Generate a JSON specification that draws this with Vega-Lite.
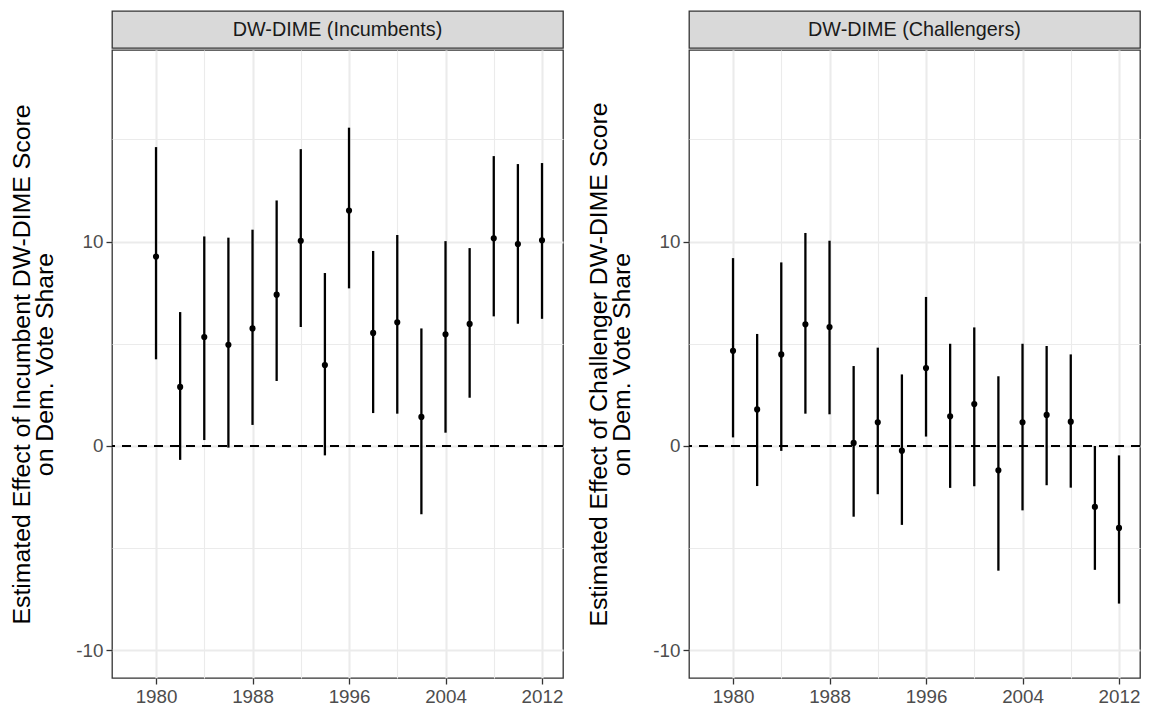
{
  "$schema": "https://vega.github.io/schema/vega-lite/v6.json",
  "background": "white",
  "padding": {"left": 9, "top": 10, "right": 6, "bottom": 0},
  "config": {
    "font": "Liberation Sans",
    "view": {"stroke": "#333333", "strokeWidth": 1.3},
    "axis": {
      "domain": false,
      "tickColor": "#333333",
      "tickWidth": 1.3,
      "tickSize": 6,
      "labelColor": "#4d4d4d",
      "labelFont": "Liberation Sans",
      "labelFontSize": 18.8,
      "labelPadding": 3,
      "gridColor": "#ebebeb",
      "titleFont": "Liberation Sans",
      "titleFontSize": 24.8,
      "titleFontWeight": "normal",
      "titleColor": "#000000"
    }
  },
  "datasets": {
    "d": [
      {"panel": "Incumbents", "year": 1980, "est": 9.27, "lo": 4.24, "hi": 14.62},
      {"panel": "Incumbents", "year": 1982, "est": 2.89, "lo": -0.68, "hi": 6.55},
      {"panel": "Incumbents", "year": 1984, "est": 5.33, "lo": 0.29, "hi": 10.25},
      {"panel": "Incumbents", "year": 1986, "est": 4.95, "lo": -0.08, "hi": 10.19},
      {"panel": "Incumbents", "year": 1988, "est": 5.75, "lo": 1.03, "hi": 10.58},
      {"panel": "Incumbents", "year": 1990, "est": 7.40, "lo": 3.18, "hi": 12.01},
      {"panel": "Incumbents", "year": 1992, "est": 10.04, "lo": 5.82, "hi": 14.52},
      {"panel": "Incumbents", "year": 1994, "est": 3.96, "lo": -0.46, "hi": 8.46},
      {"panel": "Incumbents", "year": 1996, "est": 11.52, "lo": 7.71, "hi": 15.57},
      {"panel": "Incumbents", "year": 1998, "est": 5.53, "lo": 1.61, "hi": 9.54},
      {"panel": "Incumbents", "year": 2000, "est": 6.05, "lo": 1.58, "hi": 10.32},
      {"panel": "Incumbents", "year": 2002, "est": 1.42, "lo": -3.34, "hi": 5.75},
      {"panel": "Incumbents", "year": 2004, "est": 5.46, "lo": 0.65, "hi": 10.02},
      {"panel": "Incumbents", "year": 2006, "est": 5.97, "lo": 2.36, "hi": 9.68},
      {"panel": "Incumbents", "year": 2008, "est": 10.16, "lo": 6.34, "hi": 14.18},
      {"panel": "Incumbents", "year": 2010, "est": 9.88, "lo": 5.98, "hi": 13.79},
      {"panel": "Incumbents", "year": 2012, "est": 10.06, "lo": 6.22, "hi": 13.84},
      {"panel": "Challengers", "year": 1980, "est": 4.66, "lo": 0.42, "hi": 9.19},
      {"panel": "Challengers", "year": 1982, "est": 1.79, "lo": -1.96, "hi": 5.48},
      {"panel": "Challengers", "year": 1984, "est": 4.48, "lo": -0.24, "hi": 8.98},
      {"panel": "Challengers", "year": 1986, "est": 5.95, "lo": 1.58, "hi": 10.42},
      {"panel": "Challengers", "year": 1988, "est": 5.82, "lo": 1.55, "hi": 10.04},
      {"panel": "Challengers", "year": 1990, "est": 0.15, "lo": -3.46, "hi": 3.91},
      {"panel": "Challengers", "year": 1992, "est": 1.16, "lo": -2.36, "hi": 4.81},
      {"panel": "Challengers", "year": 1994, "est": -0.23, "lo": -3.86, "hi": 3.50},
      {"panel": "Challengers", "year": 1996, "est": 3.81, "lo": 0.46, "hi": 7.29},
      {"panel": "Challengers", "year": 1998, "est": 1.45, "lo": -2.05, "hi": 5.00},
      {"panel": "Challengers", "year": 2000, "est": 2.05, "lo": -1.97, "hi": 5.80},
      {"panel": "Challengers", "year": 2002, "est": -1.19, "lo": -6.10, "hi": 3.41},
      {"panel": "Challengers", "year": 2004, "est": 1.16, "lo": -3.15, "hi": 5.00},
      {"panel": "Challengers", "year": 2006, "est": 1.52, "lo": -1.92, "hi": 4.89},
      {"panel": "Challengers", "year": 2008, "est": 1.19, "lo": -2.04, "hi": 4.48},
      {"panel": "Challengers", "year": 2010, "est": -2.98, "lo": -6.06, "hi": 0.0},
      {"panel": "Challengers", "year": 2012, "est": -4.01, "lo": -7.71, "hi": -0.46}
    ]
  },
  "spacing": 21,
  "hconcat": [
    {
      "spacing": 0,
      "vconcat": [
        {
          "width": 451, "height": 37,
          "view": {"fill": "#d9d9d9", "stroke": "#333333", "strokeWidth": 1.3},
          "data": {"values": [{"label": "DW-DIME (Incumbents)"}]},
          "mark": {"type": "text", "fontSize": 19.8, "color": "#1a1a1a", "font": "Liberation Sans", "baseline": "middle"},
          "encoding": {"text": {"field": "label", "type": "nominal"}}
        },
        {
          "width": 451, "height": 628,
          "layer": [
            {
              "data": {"values": [{"zero": 0}]},
              "mark": {"type": "rule", "strokeDash": [9, 7], "strokeWidth": 2, "color": "#000000"},
              "encoding": {"y": {"field": "zero", "type": "quantitative"}}
            },
            {
              "data": {"name": "d"},
              "transform": [{"filter": "datum.panel == 'Incumbents'"}],
              "mark": {"type": "rule", "strokeWidth": 2.3, "color": "#000000"},
              "encoding": {
                "x": {"field": "year", "type": "quantitative"},
                "y": {"field": "lo", "type": "quantitative"},
                "y2": {"field": "hi"}
              }
            },
            {
              "data": {"name": "d"},
              "transform": [{"filter": "datum.panel == 'Incumbents'"}],
              "mark": {"type": "point", "filled": true, "size": 38, "color": "#000000", "opacity": 1},
              "encoding": {
                "x": {"field": "year", "type": "quantitative",
                  "scale": {"domain": [1976.35, 2013.74], "nice": false, "zero": false},
                  "axis": {"title": null, "values": [1980, 1984, 1988, 1992, 1996, 2000, 2004, 2008, 2012],
                    "labelExpr": "(datum.value - 1980) % 8 == 0 ? '' + datum.value : ''",
                    "tickOpacity": {"condition": {"test": "(datum.value - 1980) % 8 != 0", "value": 0}, "value": 1},
                    "gridWidth": {"condition": {"test": "(datum.value - 1980) % 8 != 0", "value": 1.1}, "value": 2.1}}
                },
                "y": {"field": "est", "type": "quantitative",
                  "scale": {"domain": [-11.35, 19.37], "nice": false, "zero": false},
                  "axis": {"title": ["Estimated Effect of Incumbent DW-DIME Score", "on Dem. Vote Share"],
                    "titleLineHeight": 23, "titlePadding": 18,
                    "values": [-10, -5, 0, 5, 10, 15],
                    "labelExpr": "datum.value % 10 == 0 ? '' + datum.value : ''",
                    "tickOpacity": {"condition": {"test": "datum.value % 10 != 0", "value": 0}, "value": 1},
                    "gridWidth": {"condition": {"test": "datum.value % 10 != 0", "value": 1.1}, "value": 2.1}}
                }
              }
            }
          ]
        }
      ]
    },
    {
      "spacing": 0,
      "vconcat": [
        {
          "width": 451, "height": 37,
          "view": {"fill": "#d9d9d9", "stroke": "#333333", "strokeWidth": 1.3},
          "data": {"values": [{"label": "DW-DIME (Challengers)"}]},
          "mark": {"type": "text", "fontSize": 19.8, "color": "#1a1a1a", "font": "Liberation Sans", "baseline": "middle"},
          "encoding": {"text": {"field": "label", "type": "nominal"}}
        },
        {
          "width": 451, "height": 628,
          "layer": [
            {
              "data": {"values": [{"zero": 0}]},
              "mark": {"type": "rule", "strokeDash": [9, 7], "strokeWidth": 2, "color": "#000000"},
              "encoding": {"y": {"field": "zero", "type": "quantitative"}}
            },
            {
              "data": {"name": "d"},
              "transform": [{"filter": "datum.panel == 'Challengers'"}],
              "mark": {"type": "rule", "strokeWidth": 2.3, "color": "#000000"},
              "encoding": {
                "x": {"field": "year", "type": "quantitative"},
                "y": {"field": "lo", "type": "quantitative"},
                "y2": {"field": "hi"}
              }
            },
            {
              "data": {"name": "d"},
              "transform": [{"filter": "datum.panel == 'Challengers'"}],
              "mark": {"type": "point", "filled": true, "size": 38, "color": "#000000", "opacity": 1},
              "encoding": {
                "x": {"field": "year", "type": "quantitative",
                  "scale": {"domain": [1976.35, 2013.74], "nice": false, "zero": false},
                  "axis": {"title": null, "values": [1980, 1984, 1988, 1992, 1996, 2000, 2004, 2008, 2012],
                    "labelExpr": "(datum.value - 1980) % 8 == 0 ? '' + datum.value : ''",
                    "tickOpacity": {"condition": {"test": "(datum.value - 1980) % 8 != 0", "value": 0}, "value": 1},
                    "gridWidth": {"condition": {"test": "(datum.value - 1980) % 8 != 0", "value": 1.1}, "value": 2.1}}
                },
                "y": {"field": "est", "type": "quantitative",
                  "scale": {"domain": [-11.35, 19.37], "nice": false, "zero": false},
                  "axis": {"title": ["Estimated Effect of Challenger DW-DIME Score", "on Dem. Vote Share"],
                    "titleLineHeight": 23, "titlePadding": 18,
                    "values": [-10, -5, 0, 5, 10, 15],
                    "labelExpr": "datum.value % 10 == 0 ? '' + datum.value : ''",
                    "tickOpacity": {"condition": {"test": "datum.value % 10 != 0", "value": 0}, "value": 1},
                    "gridWidth": {"condition": {"test": "datum.value % 10 != 0", "value": 1.1}, "value": 2.1}}
                }
              }
            }
          ]
        }
      ]
    }
  ]
}
